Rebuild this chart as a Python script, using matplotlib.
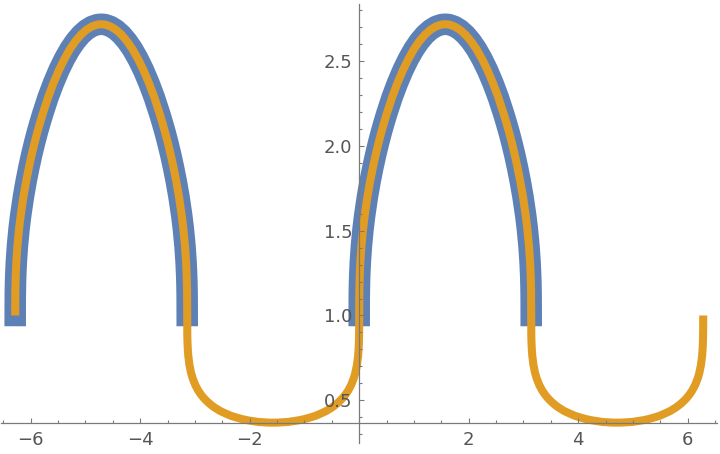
import numpy as np
import matplotlib
matplotlib.use("Agg")
import matplotlib.pyplot as plt
from matplotlib.ticker import MultipleLocator, FixedLocator, FixedFormatter

# values, one hump (0..pi/2 half) and one dip
half_x = [0, 0.0005, 0.002, 0.005, 0.01, 0.02, 0.04, 0.07, 0.1, 0.15, 0.2,
          0.25, 0.3, 0.35, 0.4, 0.45, 0.5, 0.6, 0.7, 0.8, 0.9, 1.0, 1.1,
          1.2, 1.3, 1.4, 1.5, 1.5708]
hump_y = [1.0, 1.083, 1.134, 1.187, 1.240, 1.312, 1.408, 1.510, 1.590, 1.700,
          1.792, 1.873, 1.947, 2.014, 2.076, 2.133, 2.187, 2.286, 2.372,
          2.448, 2.514, 2.571, 2.618, 2.656, 2.685, 2.705, 2.716, 2.718]
dip_y = [1.0, 0.924, 0.882, 0.843, 0.806, 0.762, 0.710, 0.662, 0.629, 0.588,
         0.558, 0.534, 0.514, 0.497, 0.482, 0.469, 0.457, 0.437, 0.422,
         0.408, 0.398, 0.389, 0.382, 0.377, 0.372, 0.370, 0.368, 0.368]

hump_starts_blue = [-2 * np.pi, 0.0]
orange_pieces = [(-2 * np.pi, "hump"), (-np.pi, "dip"), (0.0, "hump"), (np.pi, "dip")]

x_ticks = [-6, -4, -2, 2, 4, 6]
x_labels = ["\u22126", "\u22124", "\u22122", "2", "4", "6"]
y_ticks = [0.5, 1.0, 1.5, 2.0, 2.5]
y_labels = ["0.5", "1.0", "1.5", "2.0", "2.5"]
y_minor = [0.3, 0.4, 0.6, 0.7, 0.8, 0.9, 1.1, 1.2, 1.3, 1.4, 1.6, 1.7, 1.8,
           1.9, 2.1, 2.2, 2.3, 2.4, 2.6, 2.7, 2.8]

BLUE = "#5E81B5"
ORANGE = "#E19C24"
AX_COL = "#7a7a7a"
TXT_COL = "#555555"


def piece(start, vals):
    hx = np.array(half_x)
    hy = np.array(vals)
    x = np.concatenate([start + hx, start + np.pi - hx[-2::-1]])
    y = np.concatenate([hy, hy[-2::-1]])
    return x, y


fig = plt.figure(figsize=(7.2, 4.54), dpi=100)
ax = fig.add_axes([0, 0, 1, 1])

for s in hump_starts_blue:
    x, y = piece(s, hump_y)
    ax.plot(x, y, color=BLUE, lw=15.5, solid_capstyle="projecting",
            solid_joinstyle="round", zorder=1)

ox, oy = [], []
for s, kind in orange_pieces:
    x, y = piece(s, hump_y if kind == "hump" else dip_y)
    ox.append(x)
    oy.append(y)
ax.plot(np.concatenate(ox), np.concatenate(oy), color=ORANGE, lw=5.8,
        solid_capstyle="butt", solid_joinstyle="round", zorder=1.5)

ax.set_xlim(-6.561, 6.590)
ax.set_ylim(0.183, 2.861)

for side in ["top", "right"]:
    ax.spines[side].set_visible(False)
ax.spines["left"].set_position(("data", 0))
ax.spines["bottom"].set_position(("data", 0.368))
ax.spines["left"].set_bounds(0.25, 2.84)
ax.spines["bottom"].set_bounds(-6.534, 6.534)
for side in ["left", "bottom"]:
    ax.spines[side].set_color(AX_COL)
    ax.spines[side].set_linewidth(0.9)
    ax.spines[side].set_zorder(3)

ax.xaxis.set_major_locator(FixedLocator(x_ticks))
ax.xaxis.set_major_formatter(FixedFormatter(x_labels))
ax.xaxis.set_minor_locator(MultipleLocator(0.5))
ax.yaxis.set_major_locator(FixedLocator(y_ticks))
ax.yaxis.set_major_formatter(FixedFormatter(y_labels))
ax.yaxis.set_minor_locator(FixedLocator(y_minor))

ax.tick_params(which="both", direction="in", color=AX_COL, width=0.8)
ax.tick_params(which="major", length=3.5, labelsize=13, labelcolor=TXT_COL)
ax.tick_params(which="minor", length=2)
ax.tick_params(axis="x", which="major", pad=6)
ax.tick_params(axis="y", which="major", pad=5)
for t in ax.get_xticklines() + ax.get_yticklines():
    t.set_zorder(3)

fig.savefig("out.png", dpi=100)
